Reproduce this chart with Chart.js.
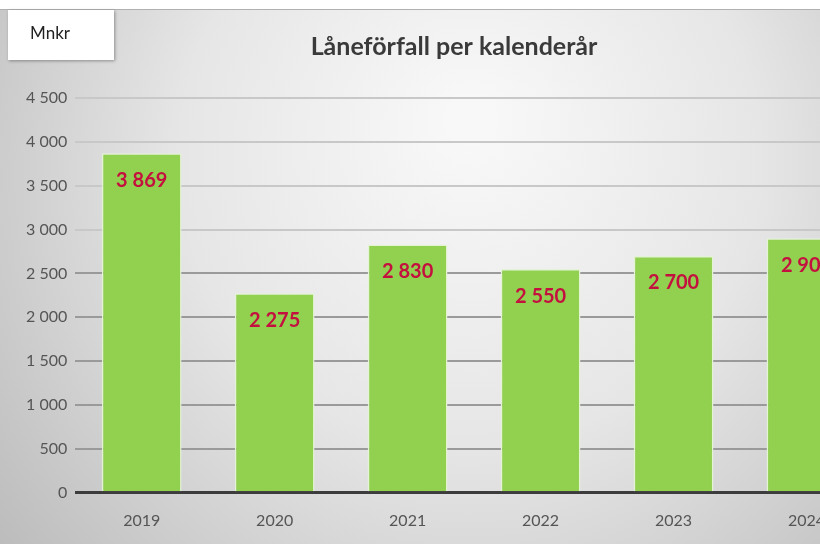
<!DOCTYPE html>
<html>
<head>
<meta charset="utf-8">
<script src="https://cdn.jsdelivr.net/npm/chart.js@4.4.1/dist/chart.umd.min.js"></script>
<style>
  html, body { margin: 0; padding: 0; width: 820px; height: 544px; overflow: hidden; background: #fff; }
  #wrap { position: relative; width: 910px; height: 544px; }
  #unit { position: absolute; left: 8px; top: 10px; width: 106px; height: 50px; background: #fff;
          box-shadow: 1px 1px 3px rgba(0,0,0,0.35); font: 17px Lato, "Open Sans", sans-serif;
          color: #222; box-sizing: border-box; padding: 12px 0 0 22px; z-index: 2; }
</style>
</head>
<body>
<div id="wrap">
  <div id="unit">Mnkr</div>
  <canvas id="laneforfall" width="910" height="544"></canvas>
</div>
<script>
const years = ['2019', '2020', '2021', '2022', '2023', '2024'];
const maturities = [3869, 2275, 2830, 2550, 2700, 2900];
const yTicks = [0, 500, 1000, 1500, 2000, 2500, 3000, 3500, 4000, 4500];
const chartTitle = 'Låneförfall per kalenderår';

function fmt(v) {
    return String(v).replace(/\B(?=(\d{3})+(?!\d))/g, ' ');
}

// background gradient, title and value labels inside bars
const decor = {
    id: 'decor',
    beforeDraw(chart) {
        const c = chart.ctx;
        const g = c.createRadialGradient(470, 120, 20, 470, 200, 620);
        g.addColorStop(0, '#f8f8f8');
        g.addColorStop(0.45, '#e6e6e6');
        g.addColorStop(1, '#b7b7b7');
        c.save();
        c.fillStyle = g;
        c.fillRect(0, 0, chart.width, chart.height);
        c.fillStyle = '#ffffff';
        c.fillRect(0, 0, chart.width, 9);
        c.strokeStyle = '#b0b0b0';
        c.lineWidth = 1;
        c.beginPath();
        c.moveTo(0, 9.5);
        c.lineTo(chart.width, 9.5);
        c.stroke();

        c.font = 'bold 25px Lato, "Open Sans", sans-serif';
        c.fillStyle = '#3a3a3a';
        c.textAlign = 'center';
        c.textBaseline = 'alphabetic';
        c.fillText(chartTitle, 454, 55);
        c.restore();
    },
    afterDatasetsDraw(chart) {
        const c = chart.ctx;
        const meta = chart.getDatasetMeta(0);
        c.save();
        c.font = 'bold 20px Lato, "Open Sans", sans-serif';
        c.fillStyle = '#c4103f';
        c.textAlign = 'center';
        c.textBaseline = 'middle';
        meta.data.forEach((bar, i) => {
            c.fillText(fmt(maturities[i]), bar.x, bar.y + 27);
        });
        c.restore();
    }
};

new Chart(document.getElementById('laneforfall'), {
    type: 'bar',
    data: {
        labels: years,
        datasets: [
            {
                label: 'Låneförfall',
                data: maturities,
                backgroundColor: '#92d050',
                borderColor: '#e4f3d4',
                borderWidth: 1.5,
                borderSkipped: 'bottom',
                categoryPercentage: 0.6,
                barPercentage: 1,
            },
        ],
    },
    options: {
        responsive: false,
        animation: false,
        layout: {
            padding: { top: 98, left: 18, right: 37, bottom: 4 },
        },
        plugins: {
            legend: { display: false },
            tooltip: { enabled: false },
        },
        scales: {
            x: {
                grid: { display: false },
                border: { display: false },
                ticks: {
                    color: '#555',
                    padding: 10,
                    font: { size: 16, family: 'Lato, "Open Sans", sans-serif' },
                },
            },
            y: {
                min: 0,
                max: 4500,
                afterBuildTicks(axis) {
                    axis.ticks = yTicks.map(v => ({ value: v }));
                },
                border: { display: false },
                grid: {
                    drawTicks: false,
                    color: ctx => ctx.tick && ctx.tick.value === 0 ? '#3c3c3c' : (ctx.tick && ctx.tick.value >= 3000 ? '#c8c8c8' : '#9a9a9a'),
                    lineWidth: ctx => ctx.tick && ctx.tick.value === 0 ? 3 : 2,
                },
                ticks: {
                    color: '#555',
                    padding: 8,
                    font: { size: 16, family: 'Lato, "Open Sans", sans-serif' },
                    callback: v => fmt(v),
                },
            },
        },
    },
    plugins: [decor],
});
</script>
</body>
</html>
